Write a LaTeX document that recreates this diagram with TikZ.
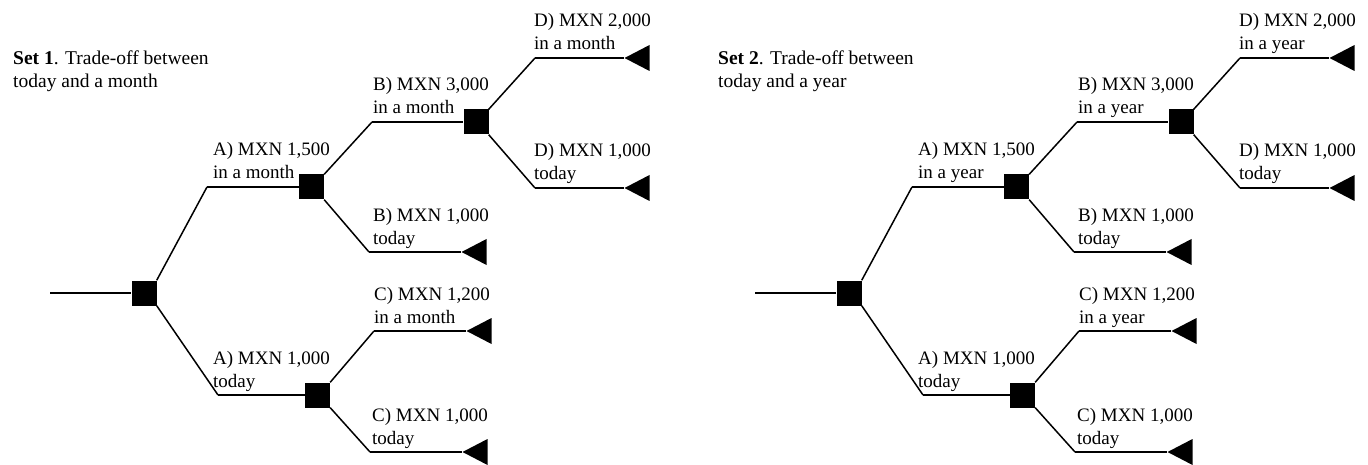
\documentclass[tikz,border=0pt]{standalone}
\usepackage{fontspec}
\setmainfont{Liberation Serif}
\usepackage{tikz}
\usetikzlibrary{shapes.geometric}

\begin{document}
\begin{tikzpicture}[x=1pt,y=-1pt,
  dec/.style={rectangle,fill=black,minimum size=25pt,inner sep=0pt},
  term/.style={isosceles triangle,isosceles triangle stretches,shape border rotate=180,
    minimum width=26pt,minimum height=25pt,inner sep=0pt,fill=black,anchor=apex},
  lbl/.style={align=left,anchor=base west,inner sep=0pt,font=\fontsize{19}{23}\selectfont},
  ttl/.style={align=left,anchor=base west,inner sep=0pt,font=\fontsize{19.5}{23}\selectfont}]
\useasboundingbox (0,0) rectangle (1368,465);

\foreach \s/\dx/\per in {1/0/month,2/705/year}{
\begin{scope}[xshift=\dx]
\node[ttl] (T\s) at (13,88){\textbf{Set \s}. Trade-off between\\today and a \per};

\coordinate (in\s) at (50,293);
\node[dec] (R\s) at (144,293){};
\coordinate (a\s) at (207,187);
\node[dec] (U\s) at (311.5,187){};
\coordinate (b\s) at (372,122);
\node[dec] (M\s) at (476,122){};
\coordinate (d\s) at (535,58);
\node[term] (tD\s) at (624,58){};
\coordinate (e\s) at (535,188);
\node[term] (tE\s) at (624,188){};
\coordinate (f\s) at (369,252);
\node[term] (tF\s) at (461,252){};
\coordinate (g\s) at (218,395);
\node[dec] (L\s) at (317.5,395){};
\coordinate (h\s) at (374,331);
\node[term] (tH\s) at (466,331){};
\coordinate (k\s) at (370,452);
\node[term] (tK\s) at (462,452){};

% labels: base of the second line
\node[lbl] (la\s) at (213,179){A) MXN 1,500\\in a \per};
\node[lbl] (lb\s) at (373,114){B) MXN 3,000\\in a \per};
\node[lbl] (ld\s) at (534,50){D) MXN 2,000\\in a \per};
\node[lbl] (le\s) at (534,180){D) MXN 1,000\\today};
\node[lbl] (lf\s) at (373,244){B) MXN 1,000\\today};
\node[lbl] (lg\s) at (213,387){A) MXN 1,000\\today};
\node[lbl] (lh\s) at (374,323){C) MXN 1,200\\in a \per};
\node[lbl] (lk\s) at (372,444){C) MXN 1,000\\today};

\draw[line width=1.2pt] (in\s) -- (R\s);
\foreach \from/\to in {R\s.north east/a\s,a\s/U\s,U\s.north east/b\s,b\s/M\s,
  M\s.north east/d\s,d\s/tD\s,M\s.south east/e\s,e\s/tE\s,U\s.south east/f\s,f\s/tF\s,
  R\s.south east/g\s,g\s/L\s,L\s.north east/h\s,h\s/tH\s,L\s.south east/k\s,k\s/tK\s}
\draw[line width=1.5pt] (\from) -- (\to);
\end{scope}
}
\end{tikzpicture}
\end{document}
